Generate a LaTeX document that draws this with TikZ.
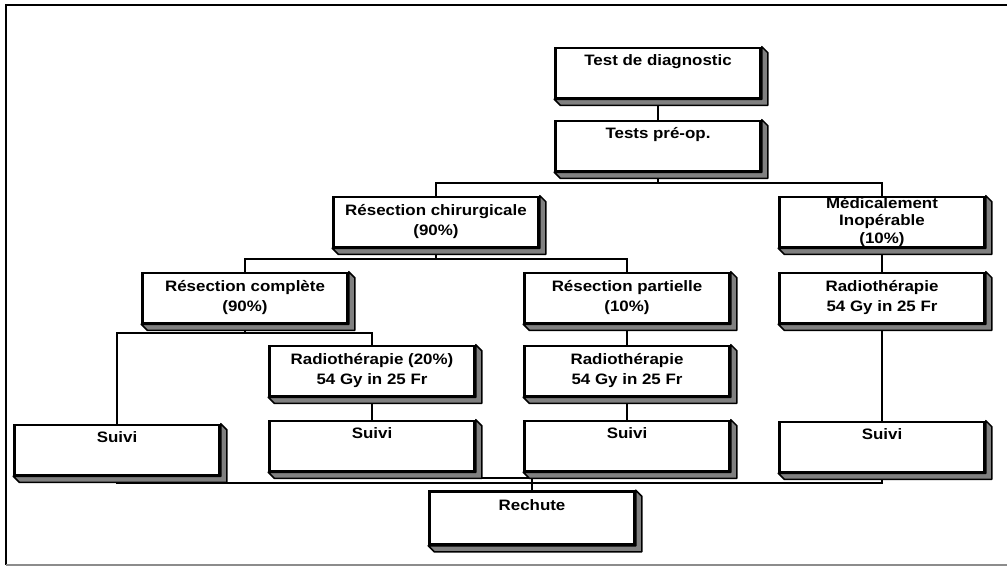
\documentclass[tikz,border=0pt]{standalone}
\usepackage{fontspec}
\setmainfont{Liberation Sans}[FakeStretch=1.12]
\usepackage{xcolor}
\usepackage{tikz}
\usetikzlibrary{backgrounds}
\definecolor{boxshade}{HTML}{808080}
\definecolor{framegrey}{HTML}{8C8C8C}
\tikzset{
    stepbox/.style={
        draw,
        line width=1.5pt,
        fill=white,
        minimum width=4.1cm,
        minimum height=1cm,
        inner sep=0pt,
        align=center,
        font=\bfseries\fontsize{8.6}{11.4}\selectfont
    },
    shade3d/.style={fill=boxshade, draw, line width=0.9pt, line join=round},
    link/.style={line width=0.9pt}
}

\begin{document}
\begin{tikzpicture}[x=0.02cm, y=-0.02cm]
\useasboundingbox (0,0) rectangle (1007,567);

% frame
\draw[line width=1.2pt] (1007,5) -- (6,5) -- (6,565);
\draw[framegrey, line width=1pt] (6,565) -- (1007,565);

% boxes
\node[stepbox] (diag) at (658,73) {Test de diagnostic\\\strut};
\node[stepbox] (preop) at (658,146) {Tests pré-op.\\\strut};
\node[stepbox] (chir) at (436,222) {Résection chirurgicale\\(90\%)};
\node[stepbox, font=\bfseries\fontsize{8.6}{9.7}\selectfont] (medic) at (882,222) {Médicalement\\Inopérable\\(10\%)};
\node[stepbox] (compl) at (245,298) {Résection complète\\(90\%)};
\node[stepbox] (part) at (627,298) {Résection partielle\\(10\%)};
\node[stepbox] (radR) at (882,298) {Radiothérapie\\54 Gy in 25 Fr};
\node[stepbox] (rad20) at (372,371) {Radiothérapie (20\%)\\54 Gy in 25 Fr};
\node[stepbox] (radP) at (627,371) {Radiothérapie\\54 Gy in 25 Fr};
\node[stepbox] (suivi1) at (117,450) {Suivi\\\strut};
\node[stepbox] (suivi2) at (372,446) {Suivi\\\strut};
\node[stepbox] (suivi3) at (627,446) {Suivi\\\strut};
\node[stepbox] (suivi4) at (882,447) {Suivi\\\strut};
\node[stepbox, minimum height=1.06cm] (rechute) at (532,518) {Rechute\\\strut};

% 3d edges
\foreach \n in {diag,preop,chir,medic,compl,part,radR,rad20,radP,suivi1,suivi2,suivi3,suivi4,rechute}
    \filldraw[shade3d] (\n.north east) -- ++(6,6) -- ([shift={(6,6)}]\n.south east)
        -- ([shift={(6,6)}]\n.south west) -- (\n.south west) -- (\n.south east) -- cycle;

% connectors
\coordinate (busA) at (0,183);
\coordinate (busB) at (0,259);
\coordinate (busC) at (0,333);
\coordinate (busD) at (0,478);
\coordinate (busE) at (0,483);
\begin{scope}[on background layer]
\draw[link] (diag.south) -- (preop.north);
\draw[link] (preop.south) -- (preop.south |- busA);
\draw[link] (chir.north) -- (chir.north |- busA) -- (medic.north |- busA) -- (medic.north);
\draw[link] (chir.south) -- (chir.south |- busB);
\draw[link] (compl.north) -- (compl.north |- busB) -- (part.north |- busB) -- (part.north);
\draw[link] (medic.south) -- (radR.north);
\draw[link] (compl.south) -- (compl.south |- busC);
\draw[link] (suivi1.north) -- (suivi1.north |- busC) -- (rad20.north |- busC) -- (rad20.north);
\draw[link] (part.south) -- (radP.north);
\draw[link] (radP.south) -- (suivi3.north);
\draw[link] (rad20.south) -- (suivi2.north);
\draw[link] (radR.south) -- (suivi4.north);
\draw[link] (suivi1.south) -- (suivi1.south |- busE) -- (suivi4.south |- busE) -- (suivi4.south);
\draw[link] (suivi2.south) -- (suivi2.south |- busD) -- (suivi3.south |- busD) -- (suivi3.south);
\draw[link] (rechute.north |- busD) -- (rechute.north);
\end{scope}
\end{tikzpicture}
\end{document}
